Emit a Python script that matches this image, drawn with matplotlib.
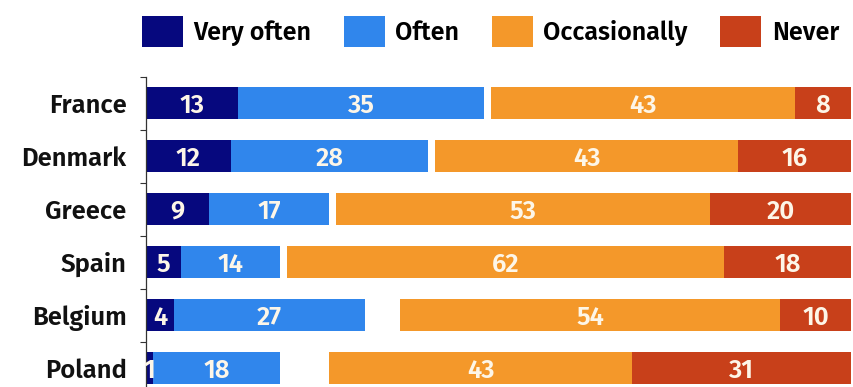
import matplotlib
matplotlib.use("Agg")
import matplotlib.pyplot as plt
from matplotlib.patches import Patch

plt.rcParams['font.family'] = ['Fira Sans', 'DejaVu Sans']

countries = ["France", "Denmark", "Greece", "Spain", "Belgium", "Poland"]
very_often = [13, 12, 9, 5, 4, 1]
often = [35, 28, 17, 14, 27, 18]
occasionally = [43, 43, 53, 62, 54, 43]
never = [8, 16, 20, 18, 10, 31]
series_names = ["Very often", "Often", "Occasionally", "Never"]
colors = ["#06087e", "#3086ec", "#f4982a", "#c8401a"]

FS = 18.5
LFS = 18
fig = plt.figure(figsize=(8.54, 3.87), dpi=100)
ax = fig.add_axes([146/854, (387-394.5)/387, 705/854, 318/387])

y = list(range(len(countries)))
h = 0.6
left_vo = [0]*len(countries)
left_of = very_often
left_oc = [100 - n - o for n, o in zip(never, occasionally)]
left_nv = [100 - n for n in never]

segs = [(very_often, left_vo), (often, left_of), (occasionally, left_oc), (never, left_nv)]
for (vals, lefts), c in zip(segs, colors):
    bars = ax.barh(y, vals, left=lefts, height=h, color=c, edgecolor='none')
    for b, v in zip(bars, vals):
        ax.text(b.get_x() + b.get_width()/2, b.get_y() + b.get_height()/2, str(v),
                ha='center', va='center_baseline', color='#fdf6e8', fontsize=FS, fontweight='semibold')

ax.set_xlim(0, 100)
ax.set_ylim(len(countries) - 0.5, -0.5)
ax.set_yticks(y)
ax.set_yticklabels(countries, fontsize=FS, fontweight='semibold', color='#111111')
for t in ax.get_yticklabels():
    t.set_verticalalignment('center_baseline')
ax.set_yticks([i - 0.5 for i in range(len(countries) + 1)], minor=True)
ax.tick_params(axis='y', which='major', length=0, pad=14)
ax.tick_params(axis='y', which='minor', length=4, width=0.8, color='#333333', direction='out')
ax.set_xticks([])
for s in ['top', 'right', 'bottom']:
    ax.spines[s].set_visible(False)
ax.spines['left'].set_linewidth(0.9)
ax.spines['left'].set_color('#333333')

handles = [Patch(facecolor=c, edgecolor='none', label=n) for c, n in zip(colors, series_names)]
fig.legend(handles=handles, loc='upper left', bbox_to_anchor=(132/854, 1 - 6/387), ncol=4,
           frameon=False, handlelength=1.64, handleheight=1.56,
           handletextpad=0.42, columnspacing=1.3, borderaxespad=0,
           prop={'weight': 'semibold', 'size': LFS})

fig.savefig("out.png", dpi=100)
